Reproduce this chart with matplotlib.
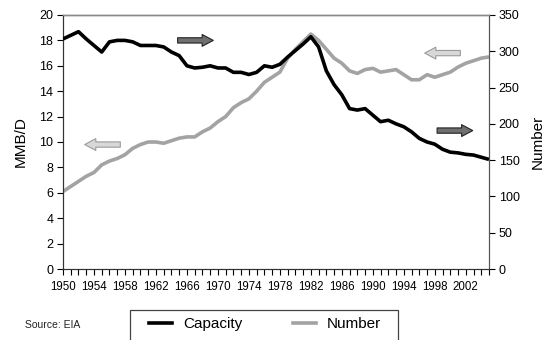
import matplotlib
matplotlib.use("Agg")
import matplotlib.pyplot as plt
from matplotlib.patches import Rectangle
from matplotlib.lines import Line2D

plt.rcParams['font.family'] = ['Liberation Sans Narrow', 'Liberation Sans', 'DejaVu Sans']

years = list(range(1950, 2006))

# Black line (plotted on right axis, "Number")
capacity = [317, 322, 327, 317, 308, 299, 313, 315, 315, 313,
            308, 308, 308, 306, 299, 294, 280, 277, 278, 280,
            277, 277, 271, 271, 268, 271, 280, 278, 282, 292,
            301, 310, 320, 306, 273, 254, 240, 221, 219, 221,
            212, 203, 205, 200, 196, 189, 180, 175, 172, 165,
            161, 160, 158, 157, 154, 151]

# Gray line (plotted on left axis, MMB/D)
number = [6.1, 6.5, 6.9, 7.3, 7.6, 8.2, 8.5, 8.7, 9.0, 9.5,
          9.8, 10.0, 10.0, 9.9, 10.1, 10.3, 10.4, 10.4, 10.8, 11.1,
          11.6, 12.0, 12.7, 13.1, 13.4, 14.0, 14.7, 15.1, 15.5, 16.6,
          17.3, 17.9, 18.5, 18.0, 17.3, 16.6, 16.2, 15.6, 15.4, 15.7,
          15.8, 15.5, 15.6, 15.7, 15.3, 14.9, 14.9, 15.3, 15.1, 15.3,
          15.5, 15.9, 16.2, 16.4, 16.6, 16.7]

x_labels = list(range(1950, 2003, 4))
left_ticks = list(range(0, 21, 2))
right_ticks = list(range(0, 351, 50))

W, H = 548, 340
fig = plt.figure(figsize=(W / 100, H / 100), dpi=100)
ax = fig.add_axes([63 / W, 1 - 269 / H, (489 - 63) / W, (269 - 15) / H])
ax2 = ax.twinx()

gray = '#a3a3a3'
ax.plot(years, number, color=gray, lw=2.6, solid_capstyle='butt', zorder=2)
ax2.plot(years, capacity, color='black', lw=2.6, solid_capstyle='butt', zorder=3)

ax.set_xlim(1950, 2005)
ax.set_ylim(0, 20)
ax2.set_ylim(0, 350)

ax.set_xticks(years, minor=False)
ax.set_xticklabels([str(y) if y in x_labels else '' for y in years])
ax.set_yticks(left_ticks)
ax2.set_yticks(right_ticks)

ax.tick_params(axis='x', direction='out', length=4, width=0.8, labelsize=8.3, pad=5)
ax.tick_params(axis='y', direction='out', length=4, width=0.8, labelsize=9, pad=3)
ax2.tick_params(axis='y', direction='out', length=4, width=0.8, labelsize=9, pad=3)

for a in (ax, ax2):
    a.spines['top'].set_color('#888888')
    a.spines['top'].set_linewidth(1.0)
    a.spines['right'].set_color('#555555')
    a.spines['left'].set_color('#333333')
    a.spines['bottom'].set_color('#333333')

ax.set_ylabel('MMB/D', fontsize=11, labelpad=8)
ax2.set_ylabel('Number', fontsize=11, labelpad=8)

# Block arrows
def block_arrow(a, x0, x1, y, fc, ec):
    a.annotate('', xy=(x1, y), xytext=(x0, y),
               arrowprops=dict(arrowstyle='simple,head_length=0.8,head_width=0.85,tail_width=0.38',
                               mutation_scale=10, fc=fc, ec=ec, lw=0.8,
                               shrinkA=0, shrinkB=0))

block_arrow(ax, 1964.8, 1969.4, 18.0, '#707070', '#222222')
block_arrow(ax, 1998.3, 2002.9, 10.9, '#707070', '#222222')
block_arrow(ax, 1957.4, 1952.8, 9.8, '#d8d8d8', '#9a9a9a')
block_arrow(ax, 2001.3, 1996.7, 17.0, '#d8d8d8', '#9a9a9a')

# Legend box (extends beyond the bottom edge)
fig.add_artist(Rectangle((130 / W, -0.05), (398 - 130) / W, (1 - 310 / H) + 0.05,
                         transform=fig.transFigure, fill=False,
                         ec='#444444', lw=0.9))
handles = [Line2D([], [], color='black', lw=2.6),
           Line2D([], [], color=gray, lw=2.6)]
fig.legend(handles, ['Capacity', 'Number'], loc='center',
           bbox_to_anchor=(265 / W, 1 - 324 / H), ncol=2, frameon=False,
           fontsize=11, handlelength=1.5, columnspacing=3.3, handletextpad=0.7,
           borderpad=0)

fig.text(25 / W, 1 - 325 / H, 'Source: EIA', fontsize=7.5, va='center', ha='left',
         color='#222222')

fig.savefig('out.png', dpi=100)
